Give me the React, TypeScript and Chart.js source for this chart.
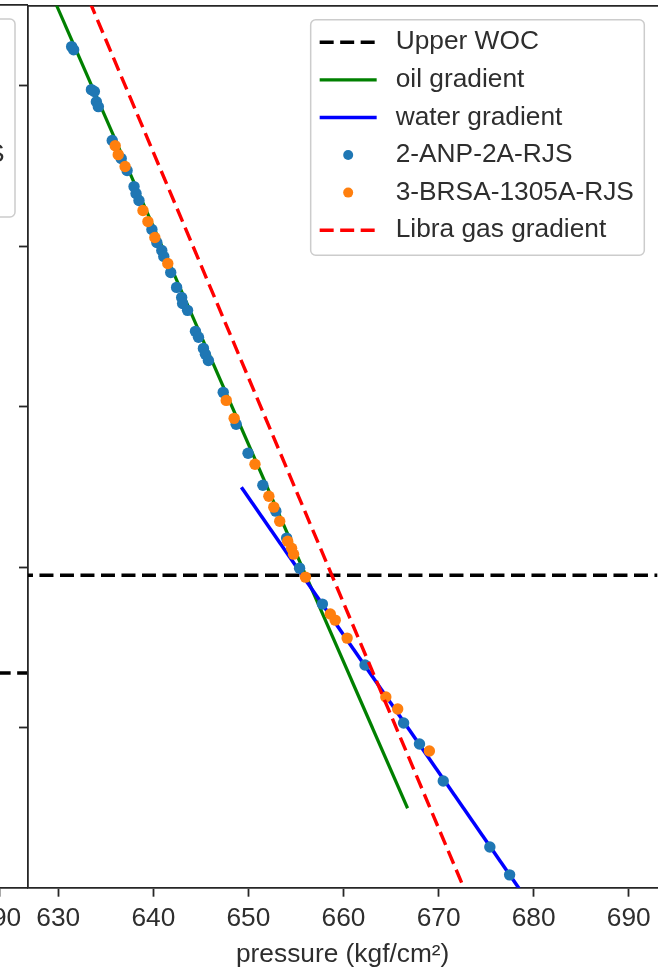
import React, { useEffect, useRef } from 'react';
import { Chart, registerables } from 'chart.js';
Chart.register(...registerables);

// ---- axes ----
const xTicks = [630, 640, 650, 660, 670, 680, 690];
const yTicks = [5000, 5100, 5200, 5300, 5400];
const xMin = 626.82;
const xMax = 693.0;
const yMin = 4950;
const yMax = 5499.5;

// ---- reference lines (pressure kgf/cm², depth m) ----
const upperWocDepth = 5304.8;
const lowerWocDepth = 5365.8;
const wocPressureSpan = [600, 720];

const oilDepth = [4900, 5450];
const oilPressure = [626.15, 666.74];
const waterDepth = [5250, 5500];
const waterPressure = [649.26, 678.47];
const gasDepth = [4900, 5500];
const gasPressure = [629.93, 672.68];

// ---- well measurements ----
const anpPressure = [631.41, 631.62, 633.49, 633.8, 634.01, 634.22, 635.68, 636.62, 637.24, 637.97, 638.18, 638.49, 639.85, 640.37, 640.89, 641.1, 641.83, 642.45, 642.98, 643.08, 643.6, 644.43, 644.75, 645.27, 645.48, 645.79, 647.35, 648.71, 649.96, 651.52, 652.88, 654.02, 655.38, 657.78, 662.26, 666.32, 667.99, 670.49, 675.39, 677.47];
const anpDepth = [4975.5, 4977.4, 5002.3, 5003.5, 5009.8, 5012.9, 5034.0, 5045.2, 5052.7, 5062.7, 5067.0, 5071.4, 5089.4, 5097.5, 5102.5, 5106.2, 5116.2, 5125.5, 5131.8, 5135.5, 5139.8, 5152.9, 5156.6, 5163.5, 5167.2, 5171.0, 5190.9, 5210.8, 5228.8, 5248.8, 5264.9, 5281.7, 5300.4, 5322.8, 5360.8, 5396.9, 5410.0, 5433.0, 5474.1, 5491.5];
const brsaPressure = [635.99, 636.31, 637.03, 638.91, 639.43, 640.16, 641.52, 647.67, 648.5, 650.69, 652.15, 652.67, 653.29, 654.13, 654.54, 654.75, 656.0, 658.61, 659.13, 660.38, 664.45, 665.7, 669.03];
const brsaDepth = [5037.2, 5042.8, 5050.2, 5077.6, 5084.5, 5094.4, 5110.6, 5195.9, 5207.1, 5235.7, 5255.6, 5262.4, 5271.2, 5283.6, 5288.0, 5291.7, 5306.0, 5329.0, 5332.8, 5344.0, 5380.7, 5388.2, 5414.3];

const TEXT = '#2e2e2e';
const SPINE = '#262626';
const FONT = '"Liberation Sans", Arial, sans-serif';
const FS = 26.3;
const DASH = [14, 6.5];

const pts = (xs: number[], ys: number[]) => xs.map((x, i) => ({ x, y: ys[i] }));

const boxLegend = {
  id: 'boxLegend',
  afterDatasetsDraw(chart: any) {
    const ctx = chart.ctx as CanvasRenderingContext2D;
    const items = chart.data.datasets.filter((d: any) => d.label);
    ctx.save();
    ctx.font = `${FS}px ${FONT}`;
    const maxW = Math.max(...items.map((d: any) => ctx.measureText(d.label).width));
    const rowH = 37.6;
    const textOff = 85;
    const width = textOff + maxW + 10.4;
    const height = (items.length - 1) * rowH + 47.5;
    const right = chart.chartArea.right - 13;
    const top = chart.chartArea.top + 14;
    const left = right - width;
    ctx.beginPath();
    (ctx as any).roundRect(left, top, width, height, 5);
    ctx.fillStyle = 'rgba(255,255,255,0.8)';
    ctx.fill();
    ctx.strokeStyle = '#cccccc';
    ctx.lineWidth = 1.5;
    ctx.stroke();
    items.forEach((d: any, i: number) => {
      const cy = top + 22.5 + i * rowH;
      const x0 = left + 9;
      if (d.showLine) {
        ctx.save();
        ctx.beginPath();
        ctx.setLineDash(d.borderDash || []);
        ctx.lineCap = 'butt';
        ctx.lineWidth = d.borderWidth;
        ctx.strokeStyle = d.borderColor;
        ctx.moveTo(x0, cy);
        ctx.lineTo(x0 + 57, cy);
        ctx.stroke();
        ctx.restore();
      } else {
        ctx.beginPath();
        ctx.arc(x0 + 28.5, cy, 5, 0, Math.PI * 2);
        ctx.fillStyle = d.backgroundColor;
        ctx.fill();
      }
      ctx.fillStyle = TEXT;
      ctx.textBaseline = 'middle';
      ctx.textAlign = 'left';
      ctx.fillText(d.label, left + textOff, cy);
    });
    ctx.restore();
  },
};

function lineSet(label: string, xs: number[], ys: number[], color: string, width: number, dash: number[] | undefined, order: number) {
  return {
    label,
    data: pts(xs, ys),
    showLine: true,
    borderColor: color,
    backgroundColor: color,
    borderWidth: width,
    borderDash: dash,
    borderCapStyle: 'butt',
    pointRadius: 0,
    pointHoverRadius: 0,
    clip: 0,
    order,
    xAxisID: 'x',
    yAxisID: 'y',
  };
}

function pointSet(label: string, xs: number[], ys: number[], color: string, order: number) {
  return {
    label,
    data: pts(xs, ys),
    showLine: false,
    borderColor: color,
    backgroundColor: color,
    pointBackgroundColor: color,
    pointBorderWidth: 0,
    pointRadius: 5.7,
    pointHoverRadius: 5.7,
    order,
    xAxisID: 'x',
    yAxisID: 'y',
  };
}

function makeOptions() {
  return {
    responsive: false,
    animation: false,
    devicePixelRatio: 1,
    layout: { padding: { top: 5, left: 0, right: 0, bottom: 0 } },
    plugins: { legend: { display: false }, tooltip: { enabled: false } },
    events: [],
    scales: {
      x: {
        type: 'linear',
        position: 'bottom',
        min: xMin,
        max: xMax,
        afterBuildTicks: (s: any) => { s.ticks = xTicks.map((v) => ({ value: v })); },
        afterFit: (s: any) => { s.height = 84.3; },
        ticks: { color: TEXT, font: { family: FONT, size: FS }, padding: 6, maxRotation: 0, autoSkip: false },
        grid: { drawOnChartArea: false, drawTicks: true, tickLength: 9, tickWidth: 1.8, tickColor: SPINE },
        border: { display: true, color: SPINE, width: 1.8 },
        title: { display: true, text: 'pressure (kgf/cm²)', color: TEXT, font: { family: FONT, size: FS }, padding: { top: 0, bottom: 1.5 } },
      },
      x2: {
        type: 'linear',
        position: 'top',
        min: xMin,
        max: xMax,
        afterFit: (s: any) => { s.height = 0; },
        ticks: { display: false },
        grid: { display: false },
        border: { display: true, color: SPINE, width: 1.8 },
      },
      y: {
        type: 'linear',
        position: 'left',
        reverse: true,
        min: yMin,
        max: yMax,
        afterBuildTicks: (s: any) => { s.ticks = yTicks.map((v) => ({ value: v })); },
        afterFit: (s: any) => { s.width = 28; },
        ticks: { display: false },
        grid: { drawOnChartArea: false, drawTicks: true, tickLength: 9, tickWidth: 1.8, tickColor: SPINE },
        border: { display: true, color: SPINE, width: 1.8 },
      },
    },
  };
}

export default function App() {
  const leftRef = useRef<HTMLCanvasElement>(null);
  const rightRef = useRef<HTMLCanvasElement>(null);

  useEffect(() => {
    const leftChart = new Chart(leftRef.current as HTMLCanvasElement, {
      type: 'scatter',
      data: {
        datasets: [
          lineSet('Lower WOC', wocPressureSpan, [lowerWocDepth, lowerWocDepth], '#000000', 3.4, DASH, 5),
          lineSet('oil gradient', [], [], '#008000', 3.2, undefined, 4),
          lineSet('water gradient', [], [], '#0000ff', 3.5, undefined, 3),
          pointSet('3-BRSA-1305A-RJS', [], [], '#ff7f0e', 2),
          lineSet('Libra gas gradient', [], [], '#ff0000', 3.4, DASH, 1),
        ] as any,
      },
      options: makeOptions() as any,
      plugins: [boxLegend],
    });

    const rightChart = new Chart(rightRef.current as HTMLCanvasElement, {
      type: 'scatter',
      data: {
        datasets: [
          lineSet('Upper WOC', wocPressureSpan, [upperWocDepth, upperWocDepth], '#000000', 3.4, DASH, 6),
          lineSet('oil gradient', oilPressure, oilDepth, '#008000', 3.2, undefined, 5),
          lineSet('water gradient', waterPressure, waterDepth, '#0000ff', 3.5, undefined, 4),
          pointSet('2-ANP-2A-RJS', anpPressure, anpDepth, '#1f77b4', 3),
          pointSet('3-BRSA-1305A-RJS', brsaPressure, brsaDepth, '#ff7f0e', 2),
          lineSet('Libra gas gradient', gasPressure, gasDepth, '#ff0000', 3.4, DASH, 1),
        ] as any,
      },
      options: makeOptions() as any,
      plugins: [boxLegend],
    });

    return () => {
      leftChart.destroy();
      rightChart.destroy();
    };
  }, []);

  return (
    <div style={{ position: 'absolute', left: 0, top: 0, width: 661, height: 972, overflow: 'hidden', background: '#ffffff' }}>
      <canvas ref={leftRef} width={663} height={972} style={{ position: 'absolute', left: -635, top: 0, width: 663, height: 972 }} />
      <canvas ref={rightRef} width={663} height={972} style={{ position: 'absolute', left: 0, top: 0, width: 663, height: 972 }} />
    </div>
  );
}
